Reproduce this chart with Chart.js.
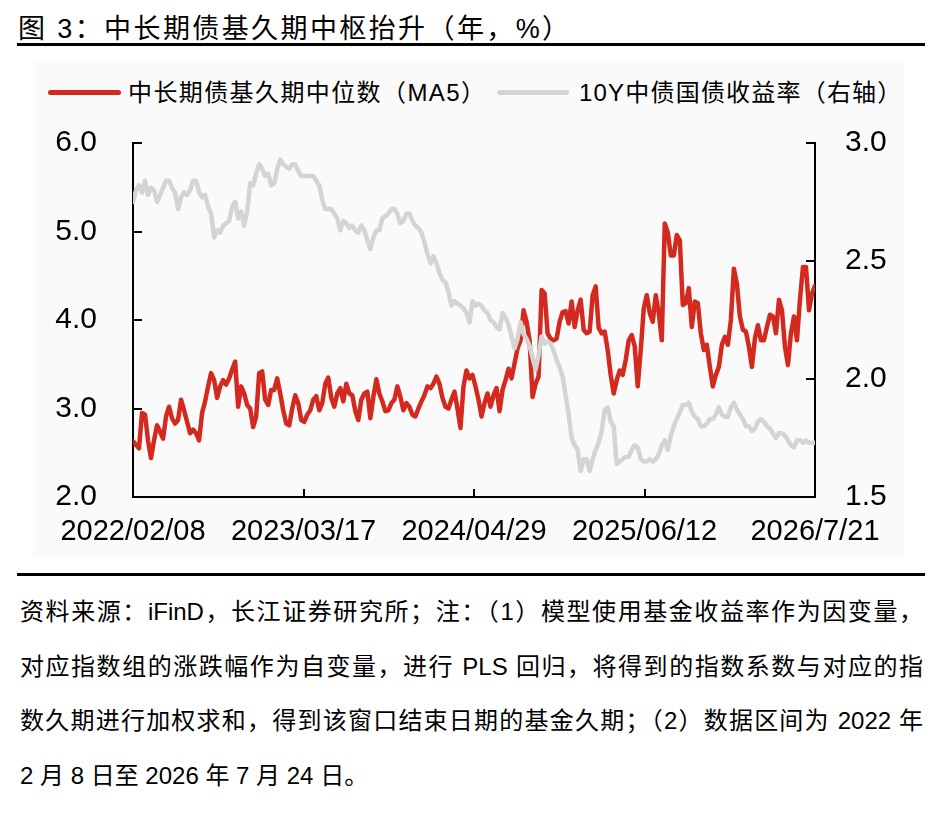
<!DOCTYPE html>
<html>
<head>
<meta charset="utf-8">
<script src="https://cdn.jsdelivr.net/npm/chart.js@4.4.1/dist/chart.umd.min.js"></script>
<style>
  body { margin: 0; background: #fff; font-family: "Liberation Sans", Arial, "Noto Sans CJK SC", sans-serif; color: #000; }
  #page { position: relative; width: 952px; height: 813px; overflow: hidden; }
  .title { position: absolute; left: 18px; top: 10px; font-size: 27px; line-height: 38px; letter-spacing: 2.4px; white-space: nowrap; }
  .rule { position: absolute; left: 17px; width: 908px; height: 2.5px; background: #000; }
  .panel { position: absolute; left: 33px; top: 60px; width: 871px; height: 498px; background: #fafafa; }
  .legend { position: absolute; top: 78px; height: 30px; font-size: 24px; line-height: 30px; white-space: nowrap; }
  .legend i { position: absolute; top: 12px; height: 5px; border-radius: 3px; }
  .legend span { position: absolute; top: 0; }
  #chartBox { position: absolute; left: 0; top: 120px; }
  .notes { position: absolute; left: 20px; top: 585px; width: 903px; font-size: 24px; line-height: 54.5px; }
  .notes div { text-align: justify; text-align-last: justify; white-space: nowrap; }
  .notes div.last { text-align-last: left; }
</style>
</head>
<body>
<div id="page">
  <div class="title">图 3：中长期债基久期中枢抬升（年，%）</div>
  <div class="rule" style="top:43px"></div>
  <div class="panel"></div>
  <div class="legend" style="left:0;width:952px">
    <i style="left:48px;width:73px;background:#d3291f"></i>
    <span style="left:128px;letter-spacing:1.4px">中长期债基久期中位数（MA5）</span>
    <i style="left:497px;width:72px;background:#d4d4d4"></i>
    <span style="left:579px;letter-spacing:1.2px">10Y中债国债收益率（右轴）</span>
  </div>
  <div id="chartBox"><canvas id="grafico" width="952" height="440"></canvas></div>
  <div class="rule" style="top:573px"></div>
  <div class="notes">
    <div>资料来源：iFinD，长江证券研究所；注：（1）模型使用基金收益率作为因变量，</div>
    <div>对应指数组的涨跌幅作为自变量，进行 PLS 回归，将得到的指数系数与对应的指</div>
    <div>数久期进行加权求和，得到该窗口结束日期的基金久期；（2）数据区间为 2022 年</div>
    <div class="last">2 月 8 日至 2026 年 7 月 24 日。</div>
  </div>
</div>
<script>
var xTickLabels = ['2022/02/08', '2023/03/17', '2024/04/29', '2025/06/12', '2026/7/21'];

// 中长期债基久期中位数（MA5），年
var duracaoMA5 = [
  2.63,2.59,2.55,2.95,2.93,2.64,2.44,2.64,2.81,2.74, 2.66,2.91,3.02,2.89,2.83,2.87,3.10,2.98,2.85,2.72,
  2.76,2.72,2.64,2.95,3.08,3.25,3.40,3.32,3.12,3.25, 3.32,3.27,3.34,3.44,3.53,3.02,3.25,3.17,3.04,3.00,
  2.79,2.91,3.40,3.42,3.10,3.04,3.21,3.21,3.34,3.17, 2.98,2.83,2.81,3.00,3.15,3.06,2.87,2.85,2.93,2.98,
  3.10,3.14,2.98,3.06,3.28,3.35,3.12,3.02,3.17,3.23, 3.08,3.28,3.17,3.15,2.97,2.87,3.10,3.17,3.19,2.89,
  3.13,3.33,3.17,3.08,2.97,2.98,3.06,3.10,3.25,3.13, 2.98,3.06,3.02,2.93,2.91,3.00,3.08,3.15,3.25,3.23,
  3.28,3.36,3.28,3.12,3.02,3.00,3.10,3.19,3.00,2.78, 3.25,3.43,3.34,3.38,3.25,3.10,
  2.91,3.06,3.17,3.02,3.15,3.23,2.97,3.21,3.32,3.45, 3.34,3.51,3.68,3.77,4.11,3.98,3.77,3.13,3.28,3.36,
  4.34,4.30,3.85,3.79,3.77,3.79,3.98,4.09,4.10,3.96, 4.21,3.92,4.11,4.23,3.89,3.85,3.87,4.28,4.38,3.91,
  3.85,3.87,3.66,3.38,3.17,3.32,3.43,3.38,3.55,3.77, 3.83,3.70,3.25,3.66,4.13,4.28,4.08,
  3.98,4.28,4.08,3.77,5.09,4.99,4.73,4.73,4.96,4.90, 4.17,4.19,4.36,3.92,4.21,4.19,3.85,3.66,3.72,3.47,
  3.25,3.38,3.47,3.72,3.81,3.72,4.00,4.58,4.41,4.04, 3.89,3.87,3.70,3.47,3.79,3.94,3.77,3.77,3.92,4.06,
  4.04,3.85,4.23,4.11,3.70,3.49,3.85,4.04,3.77,4.23, 4.60,4.60,4.11,4.30,4.39
];

// 10Y中债国债收益率，%（右轴）
var rendimento10Y = [
  2.75,2.80,2.82,2.79,2.84,2.78,2.81,2.80,2.75,2.78, 2.81,2.84,2.84,2.81,2.79,2.72,2.77,2.79,2.78,2.80,
  2.84,2.84,2.79,2.77,2.78,2.73,2.70,2.60,2.63,2.62, 2.65,2.66,2.67,2.73,2.75,2.68,2.71,2.65,2.71,2.83,
  2.82,2.87,2.91,2.89,2.86,2.87,2.82,2.83,2.89,2.93, 2.91,2.90,2.89,2.91,2.91,2.88,2.86,2.86,2.86,2.86,
  2.86,2.84,2.82,2.76,2.72,2.72,2.72,2.70,2.68,2.63, 2.67,2.66,2.64,2.65,2.63,2.62,2.65,2.63,2.59,2.55,
  2.60,2.63,2.63,2.68,2.69,2.70,2.72,2.72,2.70,2.66, 2.67,2.70,2.70,2.67,2.65,2.64,2.62,2.58,2.53,2.49,
  2.52,2.49,2.45,2.42,2.41,2.37,2.31,2.33,2.32,2.31, 2.30,2.28,2.24,2.33,2.31,2.32,
  2.31,2.29,2.28,2.25,2.24,2.22,2.21,2.28,2.26,2.23, 2.18,2.13,2.17,2.24,2.19,2.17,2.14,2.09,2.04,2.10,
  2.18,2.15,2.16,2.15,2.12,2.08,2.05,2.01,1.93,1.85, 1.75,1.72,1.70,1.61,1.66,1.66,1.61,1.66,1.70,1.73,
  1.78,1.87,1.88,1.82,1.80,1.64,1.65,1.66,1.67,1.67, 1.70,1.72,1.71,1.66,1.65,1.65,1.66,
  1.65,1.66,1.68,1.72,1.74,1.70,1.76,1.80,1.83,1.86, 1.89,1.89,1.90,1.86,1.84,1.83,1.80,1.80,1.81,1.83,
  1.83,1.85,1.88,1.85,1.84,1.84,1.88,1.90,1.87,1.85, 1.83,1.80,1.80,1.78,1.79,1.82,1.83,1.82,1.80,1.79,
  1.77,1.75,1.77,1.77,1.76,1.74,1.72,1.71,1.74,1.74, 1.73,1.74,1.73,1.73,1.73
];

var ultimo = duracaoMA5.length - 1;
var fonteNum = "'Liberation Sans', Arial, sans-serif";

function pontos(serie) {
    return serie.map(function (v, i) { return { x: i, y: v }; });
}

// largura fixa do eixo y, sem o padding extra que o Chart.js poe em cima/baixo
function larguraFixa(w) {
    return function (scale) {
        scale.width = w;
        scale.paddingTop = 0;
        scale.paddingBottom = 0;
    };
}

var ctx = document.getElementById('grafico').getContext('2d');

var grafico = new Chart(ctx, {
    type: 'line',
    data: {
        datasets: [{
            label: '中长期债基久期中位数（MA5）',
            data: pontos(duracaoMA5),
            yAxisID: 'yEsq',
            borderColor: '#d3291f',
            backgroundColor: '#d3291f',
            borderWidth: 4.5,
            borderJoinStyle: 'round',
            borderCapStyle: 'round',
            pointRadius: 0,
            tension: 0,
            order: 2
        }, {
            label: '10Y中债国债收益率（右轴）',
            data: pontos(rendimento10Y),
            yAxisID: 'yDir',
            borderColor: '#d4d4d4',
            backgroundColor: '#d4d4d4',
            borderWidth: 4.5,
            borderJoinStyle: 'round',
            borderCapStyle: 'round',
            pointRadius: 0,
            tension: 0,
            order: 1
        }]
    },
    options: {
        responsive: false,
        animation: false,
        layout: { padding: { top: 23, left: 0, right: 0, bottom: 0 } },
        plugins: {
            legend: { display: false },
            tooltip: { enabled: false }
        },
        scales: {
            x: {
                type: 'linear',
                min: 0,
                max: ultimo,
                afterBuildTicks: function (scale) {
                    scale.ticks = xTickLabels.map(function (_, i) {
                        return { value: ultimo * i / (xTickLabels.length - 1) };
                    });
                },
                afterFit: function (scale) { scale.height = 63; },
                ticks: {
                    autoSkip: false,
                    maxRotation: 0,
                    padding: 26,
                    color: '#000',
                    font: { size: 29, family: fonteNum },
                    callback: function (value, index) { return xTickLabels[index]; }
                },
                grid: { drawOnChartArea: false, drawTicks: true, tickLength: -8, color: '#000', lineWidth: 2 },
                border: { display: true, color: '#000', width: 2 }
            },
            yEsq: {
                position: 'left',
                min: 2,
                max: 6,
                afterFit: larguraFixa(133),
                ticks: {
                    stepSize: 1,
                    padding: 45,
                    color: '#000',
                    font: { size: 30, family: fonteNum },
                    callback: function (v) { return v.toFixed(1); }
                },
                grid: { drawOnChartArea: false, drawTicks: true, tickLength: -9, color: '#000', lineWidth: 2 },
                border: { display: true, color: '#000', width: 2 }
            },
            yDir: {
                position: 'right',
                min: 1.5,
                max: 3,
                afterFit: larguraFixa(137),
                ticks: {
                    stepSize: 0.5,
                    padding: 39,
                    color: '#000',
                    font: { size: 30, family: fonteNum },
                    callback: function (v) { return v.toFixed(1); }
                },
                grid: { drawOnChartArea: false, drawTicks: true, tickLength: -9, color: '#000', lineWidth: 2 },
                border: { display: true, color: '#000', width: 2 }
            }
        }
    }
});
</script>
</body>
</html>
